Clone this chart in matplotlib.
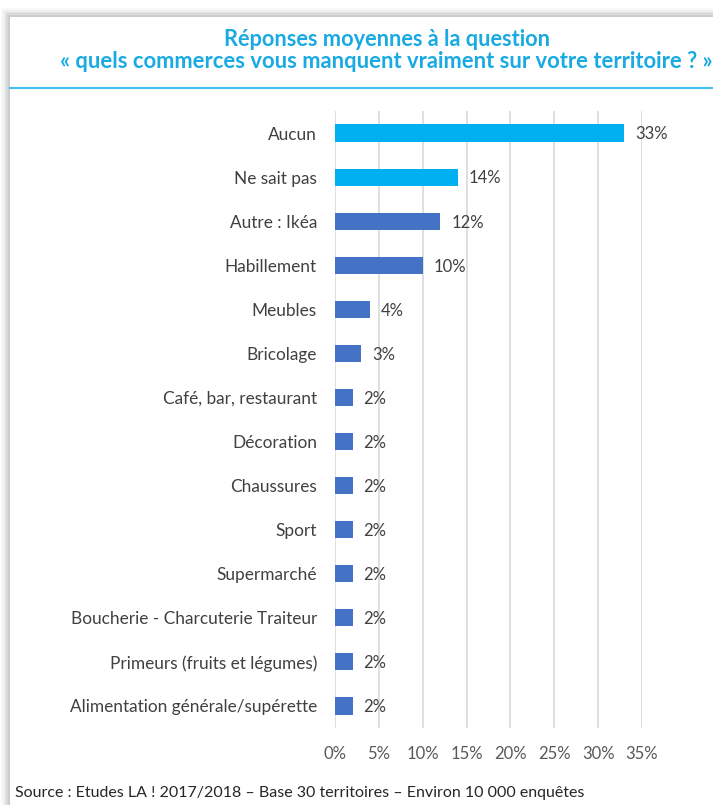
import matplotlib
matplotlib.use("Agg")
import matplotlib.pyplot as plt
from matplotlib.patches import Rectangle
from matplotlib.lines import Line2D

categories = ["Aucun", "Ne sait pas", "Autre : Ikéa", "Habillement", "Meubles", "Bricolage",
              "Café, bar, restaurant", "Décoration", "Chaussures", "Sport", "Supermarché",
              "Boucherie - Charcuterie Traiteur", "Primeurs (fruits et légumes)",
              "Alimentation générale/supérette"]
values = [33, 14, 12, 10, 4, 3, 2, 2, 2, 2, 2, 2, 2, 2]
labels = ["33%", "14%", "12%", "10%", "4%", "3%", "2%", "2%", "2%", "2%", "2%", "2%", "2%", "2%"]
highlight = [True, True] + [False] * 12
xticks = [0, 5, 10, 15, 20, 25, 30, 35]
xticklabels = ["0%", "5%", "10%", "15%", "20%", "25%", "30%", "35%"]

plt.rcParams['font.family'] = ['Lato', 'DejaVu Sans']
W, H = 713, 805
fig = plt.figure(figsize=(W / 100, H / 100), dpi=100)
fig.patch.set_facecolor("white")

# card shadow
for i, a in enumerate([0.05, 0.07, 0.09, 0.11, 0.13]):
    off = 10 - i * 2
    fig.patches.append(Rectangle(((10 - off * 0.9) / W, 0), 1, (H - 17 + off * 0.9) / H,
                                 transform=fig.transFigure, facecolor="#808080",
                                 alpha=a, edgecolor="none", zorder=0))
fig.patches.append(Rectangle((10 / W, 0), 1, (H - 17) / H, transform=fig.transFigure,
                             facecolor="white", edgecolor="none", zorder=1))

# title
cyan_t = "#1AAAE2"
fig.text(387 / W, 1 - 39 / H, "Réponses moyennes à la question", ha="center", va="center",
         fontsize=15.7, fontweight="bold", color=cyan_t, zorder=3)
fig.text(386 / W, 1 - 62 / H, "« quels commerces vous manquent vraiment sur votre territoire ? »",
         ha="center", va="center", fontsize=15.8, fontweight="bold", color=cyan_t, zorder=3)
fig.add_artist(Line2D([10 / W, 1], [1 - 88 / H, 1 - 88 / H], transform=fig.transFigure,
                      color="#3FC0EE", lw=1.5, zorder=3))

ax = fig.add_axes([335 / W, 1 - 728 / H, (642 - 335) / W, (728 - 111) / H], zorder=2)
ax.set_facecolor("none")
ys = list(range(len(categories)))
colors = ["#00B0F0" if h else "#4472C4" for h in highlight]
ax.barh(ys, values, height=0.39, color=colors, zorder=2)
for y, v, l in zip(ys, values, labels):
    ax.text(v + 1.25, y + 0.03, l, va="center", ha="left", fontsize=12, color="#404040")
ax.set_ylim(len(categories) - 0.5, -0.5)
ax.set_xlim(0, 35)
ax.set_yticks(ys)
ax.set_yticklabels(categories, fontsize=12.4, color="#404040")
ax.set_xticks(xticks)
ax.set_xticklabels(xticklabels, fontsize=12, color="#595959")
ax.tick_params(axis="both", length=0)
ax.tick_params(axis="y", pad=13)
ax.tick_params(axis="x", pad=13)
for s in ax.spines.values():
    s.set_visible(False)
ax.grid(axis="x", color="#D9D9D9", lw=1.2, zorder=0)
ax.set_axisbelow(True)

fig.text(15 / W, 1 - 793 / H, "Source : Etudes LA ! 2017/2018 – Base 30 territoires – Environ 10 000 enquêtes",
         ha="left", va="center", fontsize=11.5, color="#262626", zorder=3)

fig.savefig("out.png", dpi=100)
